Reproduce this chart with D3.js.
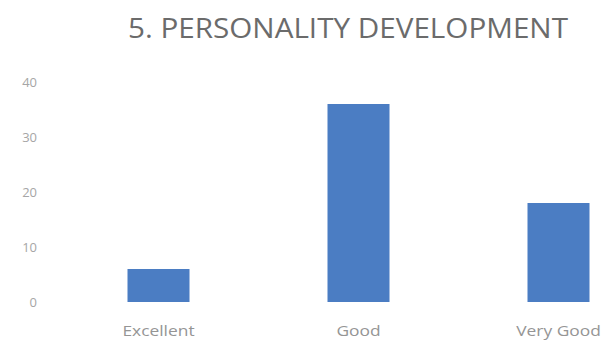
<!DOCTYPE html>
<html>
<head>
<meta charset="utf-8">
<script src="https://cdn.jsdelivr.net/npm/d3@7"></script>
<style>
  html, body { margin: 0; padding: 0; background: #fff; }
  svg { display: block; }
</style>
</head>
<body>
<svg id="chart" width="606" height="342"></svg>
<script>
const title = "5. PERSONALITY DEVELOPMENT";
const categories = ["Excellent", "Good", "Very Good"];
const values = [6, 36, 18];
const yTicks = [0, 10, 20, 30, 40];

const svg = d3.select("#chart");

const x = d3.scaleBand()
  .domain(categories)
  .range([58.5, 658.5])
  .paddingInner(0.69)
  .paddingOuter(0.345);

const y = d3.scaleLinear().domain([0, 40]).range([302, 82]);

// Title
svg.append("text")
  .attr("x", 128)
  .attr("y", 38)
  .attr("textLength", 440)
  .attr("lengthAdjust", "spacingAndGlyphs")
  .style("font-family", "'Open Sans', sans-serif")
  .style("font-size", "27px")
  .style("fill", "#6b6b6b")
  .text(title);

// Y axis (labels only)
const yAxis = svg.append("g")
  .attr("transform", "translate(37,0)")
  .call(d3.axisLeft(y).tickValues(yTicks).tickSize(0).tickPadding(0).tickFormat(d3.format("d")));
yAxis.select(".domain").remove();
yAxis.selectAll("text")
  .style("font-family", "'Open Sans', sans-serif")
  .style("font-size", "13px")
  .style("fill", "#a6a6a6");

// Bars
svg.append("g").selectAll("rect")
  .data(values)
  .join("rect")
  .attr("x", (d, i) => x(categories[i]))
  .attr("width", x.bandwidth())
  .attr("y", d => y(d))
  .attr("height", d => y(0) - y(d))
  .attr("fill", "#4b7dc3");

// X category labels
const xl = svg.append("g").selectAll("g")
  .data(categories)
  .join("g")
  .attr("transform", d => `translate(${x(d) + x.bandwidth() / 2},336)`);
xl.append("text")
  .attr("text-anchor", "middle")
  .attr("transform", "scale(1.2,1)")
  .style("font-family", "'Open Sans', sans-serif")
  .style("font-size", "14.5px")
  .style("fill", "#959595")
  .text(d => d);
</script>
</body>
</html>
